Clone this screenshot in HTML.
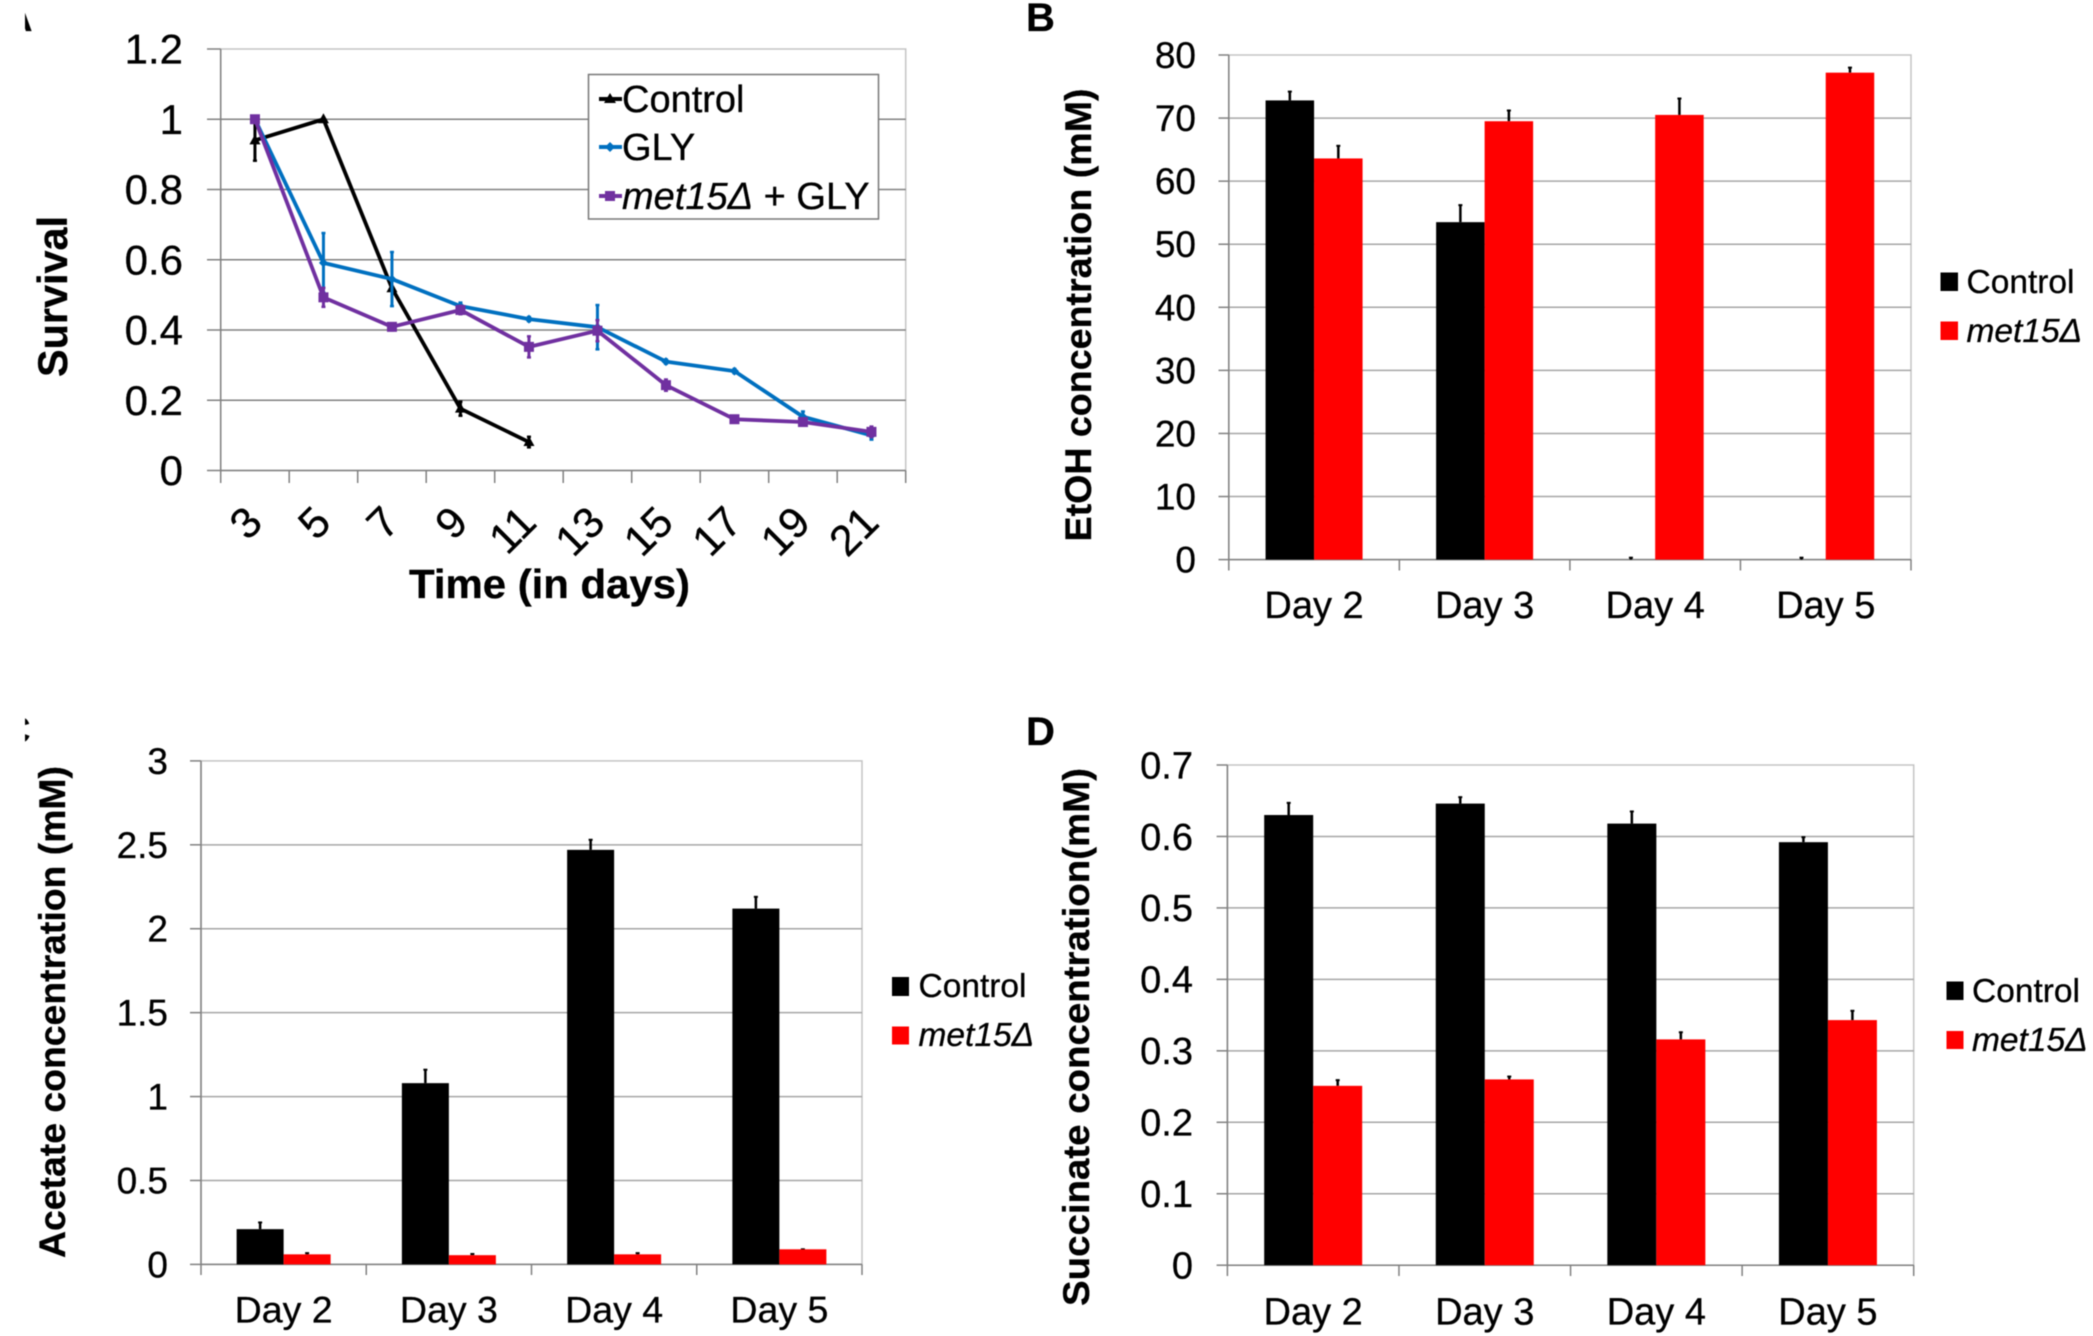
<!DOCTYPE html>
<html lang="en">
<head>
<meta charset="utf-8">
<title>Survival and metabolite concentration charts</title>
<style>
html,body{margin:0;padding:0;background:#fff;}
body{width:2093px;height:1336px;overflow:hidden;}
svg{display:block;font-family:"Liberation Sans",sans-serif;filter:blur(0.5px);}
text{stroke:#000;stroke-width:0.3px;}
.ttl{font-weight:bold;fill:#000;}
</style>
</head>
<body>
<svg id="figure" xmlns="http://www.w3.org/2000/svg" width="2093" height="1336" viewBox="0 0 2093 1336">
  <defs>
    <clipPath id="clip-a"><rect x="25" y="0" width="20" height="50"/></clipPath>
    <clipPath id="clip-c"><rect x="25" y="700" width="20" height="60"/></clipPath>
  </defs>
  <rect x="0" y="0" width="2093" height="1336" fill="#fff"/>
  <g id="chart-a"></g>
  <g id="chart-b"></g>
  <g id="chart-c"></g>
  <g id="chart-d"></g>

  <text class="ttl" x="5" y="31" font-size="38" clip-path="url(#clip-a)">A</text>
  <text class="ttl" x="1026" y="31" font-size="40">B</text>
  <text class="ttl" x="3" y="743" font-size="38" clip-path="url(#clip-c)">C</text>
  <text class="ttl" x="1026" y="745" font-size="40">D</text>

  <text class="ttl" transform="translate(67 296.5) rotate(-90)" text-anchor="middle" font-size="42" textLength="161" lengthAdjust="spacingAndGlyphs">Survival</text>
  <text class="ttl" x="549.5" y="598" text-anchor="middle" font-size="41" textLength="281" lengthAdjust="spacingAndGlyphs">Time (in days)</text>
  <text class="ttl" transform="translate(1091 315) rotate(-90)" text-anchor="middle" font-size="37.5" textLength="453" lengthAdjust="spacingAndGlyphs">EtOH concentration (mM)</text>
  <text class="ttl" transform="translate(65 1012) rotate(-90)" text-anchor="middle" font-size="37.5" textLength="492" lengthAdjust="spacingAndGlyphs">Acetate concentration (mM)</text>
  <text class="ttl" transform="translate(1089 1037) rotate(-90)" text-anchor="middle" font-size="37.5" textLength="538" lengthAdjust="spacingAndGlyphs">Succinate concentration(mM)</text>

  <g>
    <rect x="588.5" y="74.5" width="290" height="144.5" fill="#fff" stroke="#777" stroke-width="1.5"/>
    <g>
      <line x1="599" x2="622" y1="99" y2="99" stroke="#000" stroke-width="4"/>
      <polygon points="610,93 616,103 604,103" fill="#000"/>
      <text x="622" y="112" font-size="38">Control</text>
    </g>
    <g>
      <line x1="599" x2="622" y1="147" y2="147" stroke="#0070C0" stroke-width="4"/>
      <polygon points="610,142 615,147 610,152 605,147" fill="#0070C0"/>
      <text x="622" y="160" font-size="38">GLY</text>
    </g>
    <g>
      <line x1="599" x2="622" y1="196" y2="196" stroke="#7030A0" stroke-width="4"/>
      <rect x="605" y="191" width="10" height="10" fill="#7030A0"/>
      <text x="622" y="209" font-size="38"><tspan font-style="italic">met15Δ</tspan> + GLY</text>
    </g>
  </g>

  <g>
    <g>
      <rect x="1940.5" y="272.5" width="17.5" height="18.5" fill="#000"/>
      <text x="1966.5" y="293" font-size="33.5">Control</text>
    </g>
    <g>
      <rect x="1940.5" y="321.5" width="17.5" height="18.5" fill="#f00"/>
      <text x="1966.5" y="342" font-size="33.5" font-style="italic">met15Δ</text>
    </g>
  </g>
  <g>
    <g>
      <rect x="892" y="977" width="17" height="19" fill="#000"/>
      <text x="918.5" y="997" font-size="33.5">Control</text>
    </g>
    <g>
      <rect x="892" y="1026.5" width="17" height="18" fill="#f00"/>
      <text x="918.5" y="1046" font-size="33.5" font-style="italic">met15Δ</text>
    </g>
  </g>
  <g>
    <g>
      <rect x="1946.5" y="981.5" width="17" height="18.5" fill="#000"/>
      <text x="1972" y="1002" font-size="33.5">Control</text>
    </g>
    <g>
      <rect x="1946.5" y="1031" width="17" height="18" fill="#f00"/>
      <text x="1972" y="1051" font-size="33.5" font-style="italic">met15Δ</text>
    </g>
  </g>
</svg>

<script>
// ---- Panel A data ----
const dayLabels = ['3','5','7','9','11','13','15','17','19','21'];
const survivalTicks = ['0','0.2','0.4','0.6','0.8','1','1.2'];
const survivalControl = [0.94,1.0,0.519,0.176,0.081];
const survivalControlErr = [0.058,0,0,0.02,0.015];
const survivalGly = [1.0,0.591,0.545,0.468,0.431,0.408,0.31,0.283,0.153,0.10];
const survivalGlyErr = [0,0.085,0.077,0.01,0.006,0.063,0.006,0.006,0.015,0.012];
const survivalMet15 = [1.0,0.493,0.409,0.457,0.352,0.398,0.243,0.146,0.138,0.11];
const survivalMet15Err = [0.01,0.027,0.01,0.012,0.03,0.03,0.016,0.005,0.005,0.015];

// ---- Bar chart data ----
const barDays = ['Day 2','Day 3','Day 4','Day 5'];
const etohTicks = ['0','10','20','30','40','50','60','70','80'];
const etohControl = [72.8,53.5,0,0];
const etohControlTop = [74.2,56.2,0.3,0.3];
const etohMet15 = [63.6,69.5,70.5,77.2];
const etohMet15Top = [65.6,71.2,73.1,78.0];

const acetateTicks = ['0','0.5','1','1.5','2','2.5','3'];
const acetateControl = [0.21,1.08,2.47,2.12];
const acetateControlTop = [0.25,1.16,2.53,2.19];
const acetateMet15 = [0.06,0.055,0.06,0.09];
const acetateMet15Top = [0.067,0.062,0.067,0.09];

const succinateTicks = ['0','0.1','0.2','0.3','0.4','0.5','0.6','0.7'];
const succinateControl = [0.63,0.646,0.618,0.592];
const succinateControlTop = [0.647,0.655,0.635,0.599];
const succinateMet15 = [0.251,0.26,0.316,0.343];
const succinateMet15Top = [0.259,0.264,0.326,0.356];

const NS = 'http://www.w3.org/2000/svg';
function make(tag, attrs, parent){
  const node = document.createElementNS(NS, tag);
  for (const k in attrs) node.setAttribute(k, attrs[k]);
  parent.appendChild(node);
  return node;
}
function drawFrame(root, box, ticks, yMax, yScale, cats, gridColor){
  const catW = (box.right - box.left) / cats.length;
  const border = make('rect',{x:box.left,y:box.top,width:box.right-box.left,height:box.zero-box.top,fill:'none',stroke:'#c4c4c4','stroke-width':1.5},root);
  
  
  ticks.forEach(function(label){
    const v = parseFloat(label);
    const y = yScale(v);
    if (v > 0 && v < yMax) {
      const grid = make('line',{x1:box.left,x2:box.right,y1:y,y2:y,stroke:gridColor,'stroke-width':1.5},root);
      
      
    }
    const tick = make('line',{x1:box.tickLeft,x2:box.left,y1:y,y2:y,stroke:'#808080','stroke-width':1.5},root);
    
    
    const t = make('text',{x:box.labelRight,y:y+box.fs*0.35,'text-anchor':'end','font-size':box.fs,fill:'#000'},root);
    
    
    t.textContent = label;
  });
  const yAxis = make('line',{x1:box.left,x2:box.left,y1:box.top,y2:box.zero,stroke:'#808080','stroke-width':1.5},root);
  
  
  const xAxis = make('line',{x1:box.left,x2:box.right,y1:box.zero,y2:box.zero,stroke:'#808080','stroke-width':1.5},root);
  
  
  for (let i = 0; i <= cats.length; i++) {
    const x = box.left + i * catW;
    const xt = make('line',{x1:x,x2:x,y1:box.zero,y2:box.tickBottom,stroke:'#808080','stroke-width':1.5},root);
    
    
  }
  return catW;
}
function drawBarChart(rootId, box, ticks, yMax, cats, control, controlTop, met15, met15Top){
  const root = document.getElementById(rootId);
  const yScale = function(v){ return box.zero - (v / yMax) * (box.zero - box.top); };
  const catW = drawFrame(root, box, ticks, yMax, yScale, cats, '#a6a6a6');
  cats.forEach(function(cat, i){
    const cx = box.left + (i + 0.5) * catW;
    const label = make('text',{x:cx,y:box.catBase,'text-anchor':'middle','font-size':box.catFs,fill:'#000'},root);
    
    
    label.textContent = cat;
    [[control,controlTop,'#000',cx-box.barW,'control'],[met15,met15Top,'#f00',cx,'met15']].forEach(function(s){
      const vals = s[0], tops = s[1];
      const barX = s[3];
      const mid = barX + box.barW / 2;
      const err = make('line',{x1:mid,x2:mid,y1:yScale(vals[i]),y2:yScale(tops[i]),stroke:'#000','stroke-width':2.5},root);
      
      
      const cap = make('line',{x1:mid-2,x2:mid+2,y1:yScale(tops[i]),y2:yScale(tops[i]),stroke:'#000','stroke-width':2},root);
      
      
      const bar = make('rect',{x:barX,y:yScale(vals[i]),width:box.barW,height:box.zero-yScale(vals[i]),fill:s[2]},root);
      
      
    });
  });
}
function drawLineChart(){
  const root = document.getElementById('chart-a');
  const box = {left:220.7,right:905.7,top:49,zero:470.5,tickLeft:207,tickBottom:483,labelRight:183,fs:42};
  const yMax = 1.2;
  const yScale = function(v){ return box.zero - (v / yMax) * (box.zero - box.top); };
  const catW = drawFrame(root, box, survivalTicks, yMax, yScale, dayLabels, '#808080');
  const xScale = function(i){ return box.left + (i + 0.5) * catW; };
  dayLabels.forEach(function(lbl, i){
    const x = xScale(i) - 1;
    const y = 514;
    const t = make('text',{x:x,y:y,dy:'0.35em','text-anchor':'end','font-size':43,fill:'#000',transform:'rotate(-45 '+x+' '+y+')'},root);
    
    
    t.textContent = lbl;
  });
  const series = [
    {name:'control',vals:survivalControl,errs:survivalControlErr,color:'#000',marker:'tri'},
    {name:'gly',vals:survivalGly,errs:survivalGlyErr,color:'#0070C0',marker:'dia'},
    {name:'met15-gly',vals:survivalMet15,errs:survivalMet15Err,color:'#7030A0',marker:'sq'}
  ];
  series.forEach(function(s){
    const g = make('g',{},root);
    
    
    s.vals.forEach(function(v,i){
      const e = s.errs[i];
      if (!e) return;
      const x = xScale(i);
      const bar = make('line',{x1:x,x2:x,y1:yScale(v+e),y2:yScale(v-e),stroke:s.color,'stroke-width':3},g);
      
      
      [v+e,v-e].forEach(function(end){
        const cap = make('line',{x1:x-2,x2:x+2,y1:yScale(end),y2:yScale(end),stroke:s.color,'stroke-width':2.5},g);
        
        
      });
    });
    const pts = s.vals.map(function(v,i){ return xScale(i)+','+yScale(v); }).join(' ');
    const line = make('polyline',{points:pts,fill:'none',stroke:s.color,'stroke-width':3.8,'stroke-linejoin':'round'},g);
    
    
    s.vals.forEach(function(v,i){
      const x = xScale(i), y = yScale(v);
      let m;
      if (s.marker === 'sq') {
        m = make('rect',{x:x-5,y:y-5,width:10,height:10,fill:s.color},g);
      } else if (s.marker === 'dia') {
        m = make('polygon',{points:(x)+','+(y-4.5)+' '+(x+4.5)+','+y+' '+x+','+(y+4.5)+' '+(x-4.5)+','+y,fill:s.color},g);
      } else {
        m = make('polygon',{points:x+','+(y-6)+' '+(x+5.5)+','+(y+4)+' '+(x-5.5)+','+(y+4),fill:s.color},g);
      }
      
      
    });
  });
}
drawLineChart();
drawBarChart('chart-b',{left:1228.8,right:1911,top:55,zero:559.6,tickLeft:1218.5,tickBottom:570.5,labelRight:1196,fs:37,catBase:618,catFs:38,barW:48.5},etohTicks,80,barDays,etohControl,etohControlTop,etohMet15,etohMet15Top);
drawBarChart('chart-c',{left:201,right:862,top:760.9,zero:1264.4,tickLeft:190,tickBottom:1275,labelRight:168,fs:37,catBase:1322.5,catFs:37.5,barW:47},acetateTicks,3,barDays,acetateControl,acetateControlTop,acetateMet15,acetateMet15Top);
drawBarChart('chart-d',{left:1227.4,right:1913.7,top:765,zero:1265.2,tickLeft:1216.6,tickBottom:1276,labelRight:1193,fs:38,catBase:1324.5,catFs:38,barW:49},succinateTicks,0.7,barDays,succinateControl,succinateControlTop,succinateMet15,succinateMet15Top);
</script>
</body>
</html>
